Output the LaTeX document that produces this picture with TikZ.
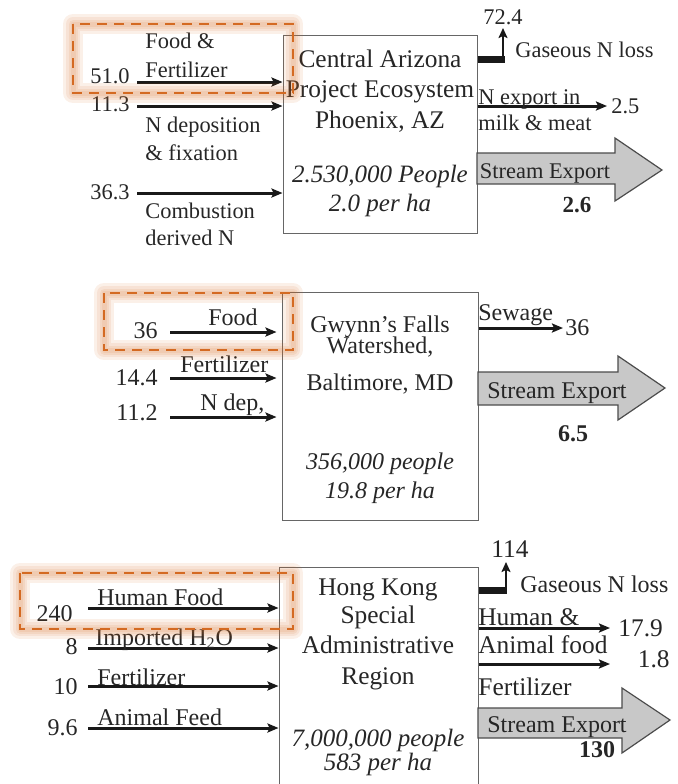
\documentclass[tikz,border=0pt]{standalone}
\usepackage{fontspec}
\setmainfont{Liberation Serif}
\usetikzlibrary{arrows.meta}
\definecolor{hiorange}{RGB}{212,106,34}
\definecolor{streamgray}{RGB}{200,200,200}

\begin{document}
\begin{tikzpicture}[x=0.5pt, y=-0.5pt,
  every node/.style={text=black!85},
  sml/.style={inner sep=0pt, font=\fontsize{11.2}{13}\selectfont},
  lbl/.style={inner sep=0pt, font=\fontsize{12}{14}\selectfont},
  big/.style={inner sep=0pt, font=\fontsize{12.7}{15}\selectfont},
  num/.style={inner sep=0pt, font=\fontsize{12}{14}\selectfont\bfseries},
  sysbox/.style={draw=black!60, line width=0.5pt, inner sep=0pt},
  inarrow/.style={line width=1.5pt, black!90, -{Stealth[length=5.5pt,width=4.5pt,inset=1pt]}},
  gasbar/.style={line width=3.5pt, black!90},
  gasarrow/.style={line width=1.2pt, black!90, -{Stealth[length=5pt,width=4.5pt,inset=1pt]}},
  stream/.style={draw=black!70, line width=0.6pt, fill=streamgray},
  higlow/.style={draw=hiorange, line width=#1, opacity=0.1, line join=round},
  hibox/.style={draw=hiorange, line width=1.3pt, dash pattern=on 5pt off 3.5pt}
]
  \useasboundingbox (0,0) rectangle (677,784);
  \clip (0,0) rectangle (677,784);

  % Central Arizona
  \node[sysbox, minimum width=97pt, minimum height=99pt] (az) at (380,134) {};
  \node[big, anchor=base] (az1) at (380,67) {Central Arizona};
  \node[big, anchor=base] (az2) at (380,97) {Project Ecosystem};
  \node[big, anchor=base] (az3) at (380,128) {Phoenix, AZ};
  \node[big, anchor=base, font=\fontsize{12.5}{15}\selectfont\itshape] (az4) at (380,182) {2.530,000 People};
  \node[big, anchor=base, font=\fontsize{12.5}{15}\selectfont\itshape] (az5) at (380,211) {2.0 per ha};

  \coordinate (azin1) at (137,82);
  \coordinate (azin2) at (137,106);
  \coordinate (azin3) at (137,193);
  \draw[inarrow] (azin1) -- (azin1 -| az.west);
  \draw[inarrow] (azin2) -- (azin2 -| az.west);
  \draw[inarrow] (azin3) -- (azin3 -| az.west);
  \node[sml, anchor=base east] (aznum1) at (130,83) {51.0};
  \node[sml, anchor=base east] (aznum2) at (130,111) {11.3};
  \node[sml, anchor=base east] (aznum3) at (130,199) {36.3};
  \node[sml, anchor=base west] (azfood) at (145,48) {Food \&};
  \node[sml, anchor=base west] (azfert) at (145,77) {Fertilizer};
  \node[sml, anchor=base west] (azdep) at (145,132) {N deposition};
  \node[sml, anchor=base west] (azfix) at (145,160) {\& fixation};
  \node[sml, anchor=base west] (azcomb) at (145,218) {Combustion};
  \node[sml, anchor=base west] (azder) at (145,245) {derived N};

  \coordinate (azbend) at (505,59);
  \coordinate (azgas) at (503,28);
  \draw[gasbar] (azbend -| az.east) -- (azbend);
  \draw[gasarrow] (503,61) -- (azgas);
  \node[sml, anchor=base] (azgasnum) at (503,24) {72.4};
  \node[sml, anchor=base west] (azgaslbl) at (515,57) {Gaseous N loss};
  \coordinate (azexp) at (607,106);
  \draw[inarrow] (azexp -| az.east) -- (azexp);
  \node[sml, anchor=base west] (azexp1) at (478,104) {N export in};
  \node[sml, anchor=base west] (azexp2) at (478,130) {milk \& meat};
  \node[sml, anchor=base west] (azexpnum) at (611,113) {2.5};
  \draw[stream] (477,153) -- (615,153) -- (615,138) -- (662,170) -- (615,201) -- (615,184) -- (477,184) -- cycle;
  \node[sml, anchor=base] (azstream) at (545,178) {Stream Export};
  \node[num, font=\fontsize{11.5}{14}\selectfont\bfseries, anchor=base] (azstreamnum) at (577,212) {2.6};

  % Gwynn's Falls
  \node[sysbox, minimum width=98pt, minimum height=114pt] (gw) at (380,406) {};
  \node[lbl, anchor=base] (gw1) at (380,332) {Gwynn's Falls};
  \node[lbl, anchor=base] (gw2) at (380,353) {Watershed,};
  \node[lbl, anchor=base] (gw3) at (380,390) {Baltimore, MD};
  \node[lbl, anchor=base, font=\fontsize{12}{14}\selectfont\itshape] (gw4) at (380,469) {356,000 people};
  \node[lbl, anchor=base, font=\fontsize{12}{14}\selectfont\itshape] (gw5) at (380,498) {19.8 per ha};

  \coordinate (gwin1) at (170,332);
  \coordinate (gwin2) at (170,378);
  \coordinate (gwin3) at (170,417);
  \draw[inarrow, shorten >=2.5pt] (gwin1) -- (gwin1 -| gw.west);
  \draw[inarrow, shorten >=2.5pt] (gwin2) -- (gwin2 -| gw.west);
  \draw[inarrow, shorten >=2.5pt] (gwin3) -- (gwin3 -| gw.west);
  \node[lbl, anchor=base east] (gwnum1) at (158,338) {36};
  \node[lbl, anchor=base east] (gwnum2) at (158,385) {14.4};
  \node[lbl, anchor=base east] (gwnum3) at (158,420) {11.2};
  \node[lbl, anchor=base east] (gwfood) at (258,325) {Food};
  \node[lbl, anchor=base west] (gwfert) at (180,372) {Fertilizer};
  \node[lbl, anchor=base west] (gwdep) at (200,410) {N dep,};

  \coordinate (gwsew) at (563,328);
  \draw[inarrow] (gwsew -| gw.east) -- (gwsew);
  \node[lbl, anchor=base west] (gwsewlbl) at (478,320) {Sewage};
  \node[lbl, anchor=base west] (gwsewnum) at (565,335) {36};
  \draw[stream] (478,372) -- (618,372) -- (618,356) -- (665,388) -- (618,420) -- (618,405) -- (478,405) -- cycle;
  \node[lbl, anchor=base] (gwstream) at (557,398) {Stream Export};
  \node[num, anchor=base] (gwstreamnum) at (573,441) {6.5};

  % Hong Kong
  \node[sysbox, minimum width=99.5pt, minimum height=120pt] (hk) at (378.5,687) {};
  \node[big, anchor=base] (hk1) at (378,595) {Hong Kong};
  \node[big, anchor=base] (hk2) at (378,623) {Special};
  \node[big, anchor=base] (hk3) at (378,653) {Administrative};
  \node[big, anchor=base] (hk4) at (378,684) {Region};
  \node[big, anchor=base, font=\fontsize{12.5}{15}\selectfont\itshape] (hk5) at (378,746) {7,000,000 people};
  \node[big, anchor=base, font=\fontsize{12.5}{15}\selectfont\itshape] (hk6) at (378,770) {583 per ha};

  \coordinate (hkin1) at (88,608);
  \coordinate (hkin2) at (88,648);
  \coordinate (hkin3) at (88,686);
  \coordinate (hkin4) at (88,728);
  \draw[inarrow] (hkin1) -- (hkin1 -| hk.west);
  \draw[inarrow] (hkin2) -- (hkin2 -| hk.west);
  \draw[inarrow] (hkin3) -- (hkin3 -| hk.west);
  \draw[inarrow] (hkin4) -- (hkin4 -| hk.west);
  \node[lbl, anchor=base east] (hknum1) at (73,621) {240};
  \node[lbl, anchor=base east] (hknum2) at (78,654) {8};
  \node[lbl, anchor=base east] (hknum3) at (78,694) {10};
  \node[lbl, anchor=base east] (hknum4) at (78,735) {9.6};
  \node[lbl, anchor=base west] (hkfood) at (97,605) {Human Food};
  \node[lbl, anchor=base west] (hkwater) at (95,645) {Imported H\textsubscript{2}O};
  \node[lbl, anchor=base west] (hkfert) at (97,685) {Fertilizer};
  \node[lbl, anchor=base west] (hkfeed) at (97,725) {Animal Feed};

  \coordinate (hkbend) at (507,590);
  \coordinate (hkgas) at (506,562);
  \draw[gasbar] (hkbend -| hk.east) -- (hkbend);
  \draw[gasarrow] (506,592) -- (hkgas);
  \node[big, anchor=base] (hkgasnum) at (510,557) {114};
  \node[lbl, anchor=base west] (hkgaslbl) at (520,592) {Gaseous N loss};
  \coordinate (hkexp1) at (610,628);
  \coordinate (hkexp2) at (610,664);
  \draw[inarrow] (hkexp1 -| hk.east) -- (hkexp1);
  \draw[inarrow] (hkexp2 -| hk.east) -- (hkexp2);
  \node[big, anchor=base west] (hkexplbl1) at (478,625) {Human \&};
  \node[big, anchor=base west] (hkexplbl2) at (478,653) {Animal food};
  \node[big, anchor=base west] (hkexplbl3) at (478,695) {Fertilizer};
  \node[big, anchor=base west] (hkexpnum1) at (618,636) {17.9};
  \node[big, anchor=base east] (hkexpnum2) at (670,667) {1.8};
  \draw[stream] (478,708) -- (622,708) -- (622,688) -- (670,720) -- (622,753) -- (622,738) -- (478,738) -- cycle;
  \node[lbl, anchor=base] (hkstream) at (557,732) {Stream Export};
  \node[num, anchor=base] (hkstreamnum) at (597,757) {130};

  % highlight boxes with a soft glow
  \foreach \a/\b in {{(73,24)}/{(293,93)}, {(104,293)}/{(293,350)}, {(20,573)}/{(293,629)}} {
    \foreach \w in {10pt,7pt,4.5pt,2.5pt}
      \draw[higlow=\w] \a rectangle \b;
    \draw[hibox] \a rectangle \b;
  }
\end{tikzpicture}
\end{document}
